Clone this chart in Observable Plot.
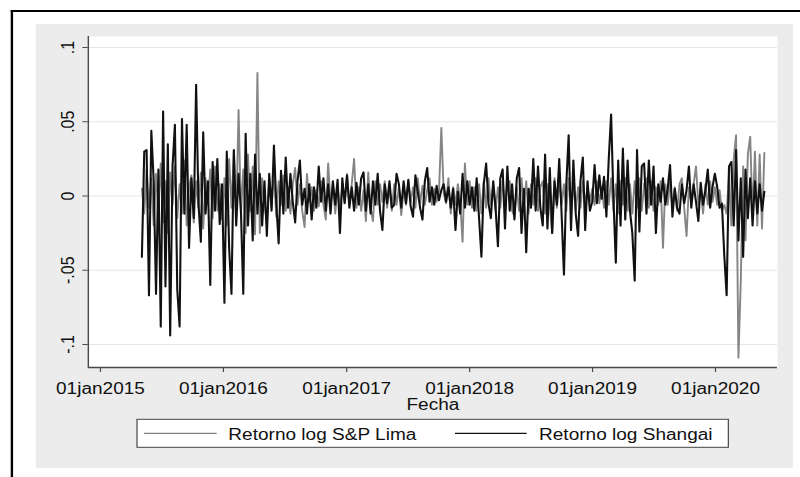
<!DOCTYPE html>
<html>
<head>
<meta charset="utf-8">
<script src="https://cdn.jsdelivr.net/npm/d3@7"></script>
<script src="https://cdn.jsdelivr.net/npm/@observablehq/plot@0.6"></script>
<style>
  html, body { margin: 0; padding: 0; background: #fff; overflow: hidden; }
  /* the graph is laid out on a 672px grid and widened to the 800px window */
  #page { position: relative; width: 672px; height: 477px; transform: scaleX(1.19048); transform-origin: 0 0;
          font-family: "Liberation Sans", Arial, sans-serif; }
  #frame { position: absolute; left: 9.2px; top: 10px; width: 700px; height: 500px;
           border-left: 2px solid #000; border-top: 2.6px solid #000; }
  #region { position: absolute; left: 30.2px; top: 24px; width: 636px; height: 444px; background: #ececec; }
  #chart { position: absolute; left: 0; top: 0; }
  #legend { position: absolute; left: 0; top: 0; }
</style>
</head>
<body>
<div id="page">
  <div id="frame"></div>
  <div id="region"><div id="chart"></div></div>
  <svg id="legend" width="672" height="477"></svg>
</div>
<script>
// Axis ticks and labels (Stata %td date format)
const xTicks = ["2015-01-01", "2016-01-01", "2017-01-01", "2018-01-01", "2019-01-01", "2020-01-01"];
const xTickLabels = ["01jan2015", "01jan2016", "01jan2017", "01jan2018", "01jan2019", "01jan2020"];
const yTicks = [-0.1, -0.05, 0, 0.05, 0.1];
const yTickLabels = ["-.1", "-.05", "0", ".05", ".1"];

// Weekly log returns, one value per Monday starting at firstWeek
const firstWeek = "2015-05-04";
const lastWeekBound = "2020-06-01";

const lima2015 = [0.005, -0.012, 0.018, -0.008, 0.012, -0.020, 0.015, -0.010, 0.022, -0.018, 0.010, -0.025, 0.016, -0.006, 0.020, -0.015, 0.008, -0.012, 0.024, -0.020, 0.006, 0.014, -0.018, 0.010, -0.008, 0.016, -0.022, 0.012, -0.005, 0.018, -0.015, 0.020, -0.010, 0.008, -0.016];
const lima2016 = [0.012, -0.020, 0.025, -0.008, 0.030, -0.015, 0.058, -0.012, 0.018, -0.025, 0.028, -0.010, 0.020, -0.026, 0.083, -0.025, 0.012, -0.006, -0.018, 0.012, -0.008, 0.016, -0.014, 0.010, -0.006, 0.014, -0.010, 0.006, -0.012, 0.008, 0.019, -0.006, 0.008, -0.010, -0.021, 0.015, -0.004, 0.006, -0.010, 0.004, -0.007, 0.010, -0.006, -0.016, 0.022, -0.005, 0.008, -0.012, 0.006, -0.008, 0.005, -0.004];
const lima2017 = [0.015, -0.006, 0.008, 0.025, -0.008, 0.006, -0.010, 0.004, -0.017, 0.016, -0.008, -0.017, 0.010, -0.006, 0.008, -0.004, 0.010, -0.008, 0.006, -0.010, 0.008, -0.006, 0.006, -0.013, 0.005, -0.006, 0.010, -0.004, 0.006, -0.008, 0.012, -0.005, 0.007, -0.006, 0.004, 0.012, -0.006, 0.005, -0.004, 0.003, 0.046, 0.002, -0.005, 0.012, -0.012, 0.006, -0.006, 0.008, -0.004, -0.031, 0.022, -0.006];
const lima2018 = [0.010, -0.008, 0.006, -0.010, 0.008, -0.012, 0.010, -0.008, 0.012, -0.006, 0.008, -0.010, 0.006, -0.008, 0.010, -0.006, 0.008, 0.010, -0.010, -0.014, 0.006, -0.010, 0.012, -0.008, 0.010, -0.012, 0.008, -0.006, 0.012, -0.010, 0.006, 0.010, -0.012, 0.008, -0.006, -0.025, 0.012, -0.008, 0.010, -0.006, 0.008, -0.010, 0.012, -0.006, 0.008, -0.010, 0.006, -0.008, 0.010, -0.006, 0.006, -0.004, 0.005];
const lima2019 = [-0.006, 0.010, -0.005, 0.006, -0.008, 0.010, -0.006, 0.012, -0.010, 0.008, -0.012, 0.010, -0.006, 0.012, -0.010, 0.008, -0.012, 0.010, -0.008, 0.012, -0.010, 0.008, 0.012, -0.008, 0.010, -0.010, 0.006, -0.006, 0.010, -0.035, 0.008, -0.006, 0.010, -0.008, 0.006, -0.010, 0.008, 0.012, -0.008, -0.027, 0.006, -0.004, 0.008, 0.020, -0.006, 0.004, -0.012, 0.008, -0.006, 0.010, -0.004, 0.006];
const lima2020 = [-0.006, 0.004, -0.010, -0.006, -0.012, 0.015, -0.020, 0.025, 0.041, -0.109, -0.057, 0.020, -0.030, 0.028, 0.040, -0.015, 0.030, -0.020, 0.028, -0.022, 0.029];

const shangai2015 = [-0.041, 0.030, 0.031, -0.067, 0.044, 0.010, -0.066, 0.018, -0.088, 0.057, -0.061, 0.035, -0.094, 0.020, 0.048, -0.063, -0.088, 0.052, -0.012, 0.048, -0.035, 0.012, -0.015, 0.075, -0.005, -0.031, 0.043, -0.012, 0.010, -0.060, 0.023, -0.010, 0.025, -0.019, 0.008];
const shangai2016 = [-0.072, 0.030, -0.035, -0.066, 0.031, -0.020, 0.015, -0.010, -0.066, 0.042, -0.020, 0.015, -0.030, 0.028, -0.012, 0.015, -0.020, 0.010, -0.027, 0.015, -0.010, 0.034, -0.005, -0.032, 0.017, -0.012, 0.026, -0.008, 0.015, -0.004, -0.018, 0.010, 0.024, -0.006, 0.005, -0.012, 0.008, -0.016, 0.006, -0.008, 0.020, -0.004, 0.012, -0.010, 0.008, -0.012, 0.010, -0.006, 0.011, -0.025, 0.012, -0.005];
const shangai2017 = [0.014, -0.008, 0.006, -0.010, 0.009, -0.006, 0.012, 0.016, -0.010, 0.008, -0.012, 0.010, -0.006, 0.015, -0.010, -0.023, 0.008, -0.005, 0.010, -0.008, -0.006, 0.015, 0.008, -0.008, 0.010, -0.005, 0.011, -0.007, -0.014, 0.014, 0.003, -0.008, -0.016, 0.010, 0.019, -0.004, 0.006, -0.006, 0.007, -0.003, 0.004, 0.008, -0.004, 0.006, -0.008, 0.005, -0.023, 0.003, -0.012, 0.015, -0.008, 0.010];
const shangai2018 = [-0.006, 0.006, -0.010, 0.012, -0.015, -0.041, 0.008, 0.022, -0.005, -0.015, 0.010, -0.008, -0.034, 0.012, 0.018, -0.022, 0.020, -0.010, 0.008, -0.016, 0.012, 0.019, -0.025, 0.005, -0.038, 0.005, -0.008, 0.025, -0.010, 0.020, -0.008, -0.020, 0.028, -0.022, 0.019, -0.025, 0.010, -0.006, 0.025, -0.012, -0.053, 0.008, 0.041, -0.023, 0.024, -0.012, -0.027, 0.010, 0.026, -0.023, 0.010, -0.010, -0.004];
const shangai2019 = [0.021, -0.005, 0.014, -0.002, 0.013, -0.014, 0.025, 0.055, -0.002, -0.045, 0.024, -0.020, 0.032, -0.016, 0.024, -0.010, -0.025, -0.057, 0.031, -0.024, 0.020, 0.022, -0.012, 0.024, -0.006, 0.020, -0.025, 0.008, -0.004, 0.012, -0.006, 0.005, 0.021, -0.014, 0.005, -0.008, -0.012, 0.008, -0.005, 0.004, 0.020, -0.008, 0.008, -0.004, -0.017, 0.009, -0.006, 0.004, 0.018, -0.008, 0.006, 0.015];
const shangai2020 = [0.006, -0.008, -0.005, -0.040, -0.067, 0.020, 0.023, -0.020, 0.031, -0.030, 0.012, -0.041, 0.018, -0.015, 0.012, -0.020, 0.010, -0.012, 0.008, -0.010, 0.003];

const weeks = d3.utcMonday.range(new Date(firstWeek), new Date(lastWeekBound));
const limaValues = [...lima2015, ...lima2016, ...lima2017, ...lima2018, ...lima2019, ...lima2020];
const shangaiValues = [...shangai2015, ...shangai2016, ...shangai2017, ...shangai2018, ...shangai2019, ...shangai2020];
const lima = limaValues.map((value, i) => ({date: weeks[i], value}));
const shangai = shangaiValues.map((value, i) => ({date: weeks[i], value}));

const xTickDates = xTicks.map(s => new Date(s));
const xDomain = [new Date("2014-11-26"), new Date("2020-07-03")];
const yDomain = [-0.1155, 0.1074];

const chart = Plot.plot({
  width: 636,
  height: 444,
  marginTop: 12,
  marginBottom: 101,
  marginLeft: 43.7,
  marginRight: 13.4,
  style: {background: "transparent", fontFamily: "'Liberation Sans', Arial, sans-serif", overflow: "visible"},
  x: {type: "utc", domain: xDomain},
  y: {domain: yDomain},
  marks: [
    Plot.frame({fill: "white", stroke: "none"}),
    Plot.ruleY(yTicks, {stroke: "#e6e6e6", strokeWidth: 1.2}),
    Plot.line(lima, {x: "date", y: "value", stroke: "#858585", strokeWidth: 1.6, strokeLinejoin: "round"}),
    Plot.line(shangai, {x: "date", y: "value", stroke: "#111", strokeWidth: 1.75, strokeLinejoin: "round"}),
    Plot.ruleX([xDomain[0]], {stroke: "#4a4a4a", strokeWidth: 1.2}),
    Plot.ruleY([yDomain[0]], {stroke: "#4a4a4a", strokeWidth: 1.3}),
    Plot.axisX(xTickDates, {
      tickSize: 5, tickPadding: 9.7, fontSize: 16, stroke: "#4a4a4a", fill: "#111", label: null,
      tickFormat: d => xTickLabels[xTickDates.findIndex(t => +t === +d)]
    }),
    Plot.axisY(yTicks, {
      tickSize: 4.5, tickPadding: 13, tickRotate: -90, textAnchor: "middle", lineAnchor: "middle",
      fontSize: 16, stroke: "#4a4a4a", fill: "#111", label: null,
      tickFormat: d => yTickLabels[yTicks.indexOf(d)]
    }),
    Plot.text(["Fecha"], {frameAnchor: "bottom", dy: 31, lineAnchor: "top", fontSize: 16, fill: "#111"})
  ]
});
document.getElementById("chart").appendChild(chart);

// Legend box below the plot
const legend = d3.select("#legend");
legend.append("rect").attr("x", 115.1).attr("y", 419.3).attr("width", 496.7).attr("height", 28)
  .attr("fill", "white").attr("stroke", "#444").attr("stroke-width", 1);
const items = [
  {label: "Retorno log S&P Lima", color: "#858585", x0: 121, x1: 182, tx: 191.8},
  {label: "Retorno log Shangai", color: "#111", x0: 382.2, x1: 442.4, tx: 452.8}
];
for (const it of items) {
  legend.append("line").attr("x1", it.x0).attr("x2", it.x1).attr("y1", 433.3).attr("y2", 433.3)
    .attr("stroke", it.color).attr("stroke-width", 1.3);
  legend.append("text").attr("x", it.tx).attr("y", 440).attr("font-size", 16).attr("fill", "#111")
    .attr("font-family", "'Liberation Sans', Arial, sans-serif").text(it.label);
}
</script>
</body>
</html>
